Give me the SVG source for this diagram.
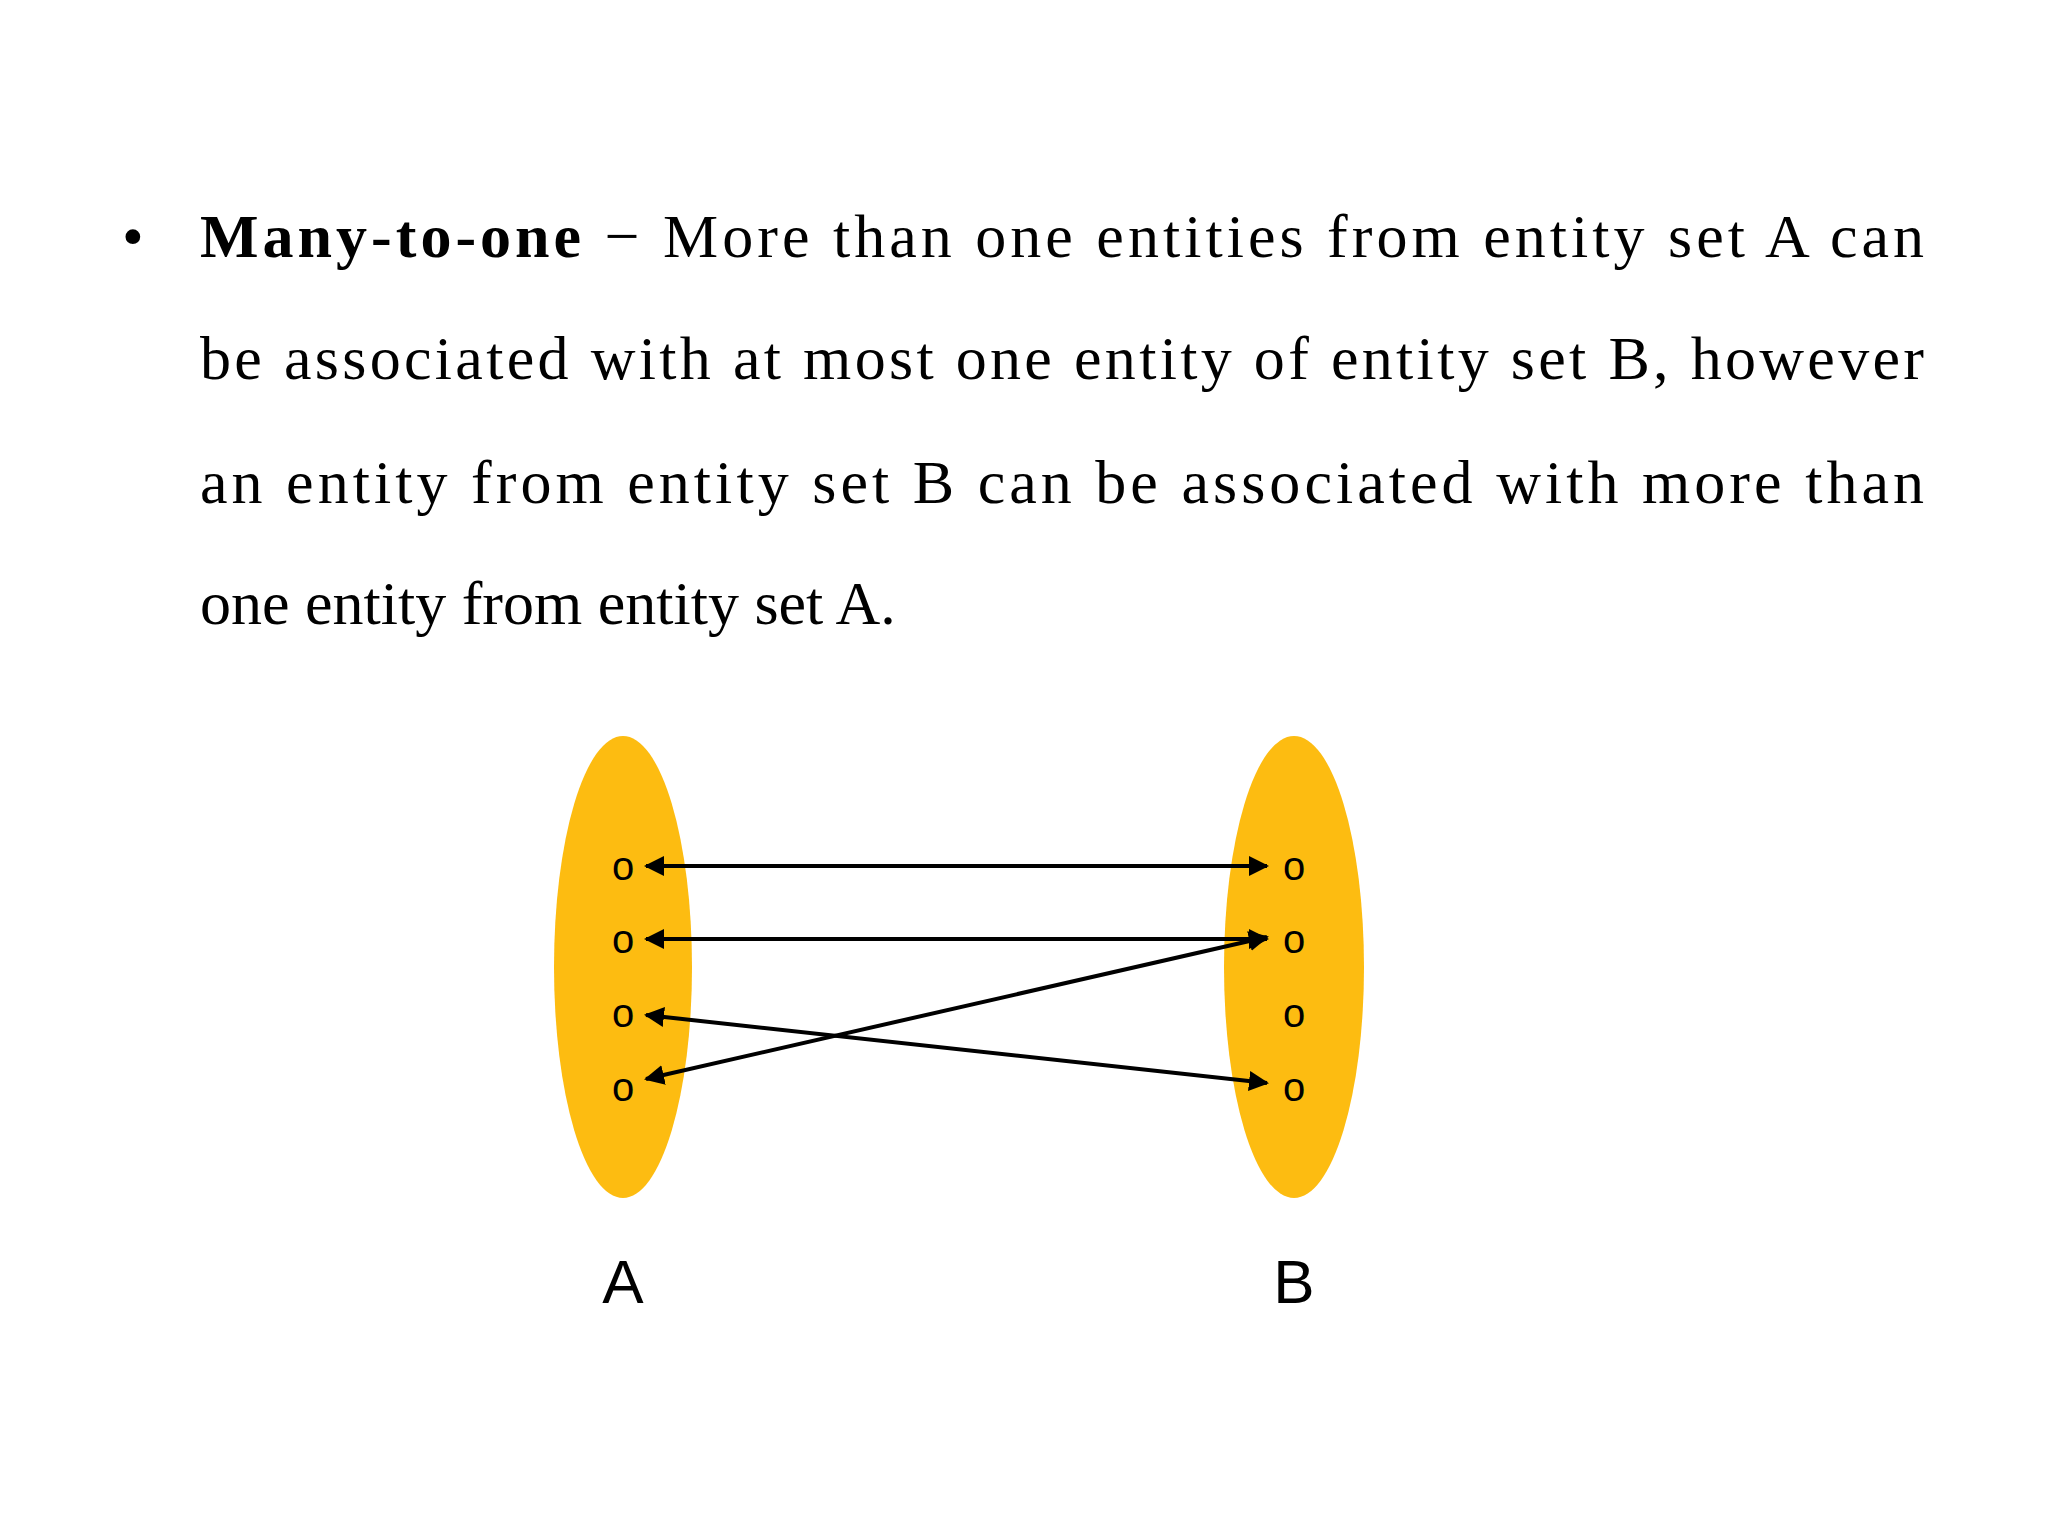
<svg xmlns="http://www.w3.org/2000/svg" width="2048" height="1536" viewBox="0 0 2048 1536">
<style>
.t{font-family:"Liberation Serif",serif;font-size:62px;fill:#000}
.o{font-family:"Liberation Sans",Arial,sans-serif;font-size:40px;fill:#000;text-anchor:middle}
.lab{font-family:"Liberation Sans",Arial,sans-serif;font-size:62px;fill:#000;text-anchor:middle}
.c{stroke:#000;stroke-width:4;fill:none;marker-start:url(#ah);marker-end:url(#ah)}
</style>
<defs>
<marker id="ah" viewBox="0 0 10 10" refX="9" refY="5" markerWidth="5" markerHeight="5" orient="auto-start-reverse" markerUnits="strokeWidth">
<path d="M0,0 L10,5 L0,10 z" fill="#000"/>
</marker>
</defs>
<rect width="2048" height="1536" fill="#fff"/>
<g id="text">
<text class="t" x="122" y="257">•</text>
<text class="t" x="200" y="257" textLength="1724" lengthAdjust="spacing"><tspan font-weight="bold">Many-to-one</tspan> − More than one entities from entity set A can</text>
<text class="t" x="200" y="379" textLength="1724" lengthAdjust="spacing">be associated with at most one entity of entity set B, however</text>
<text class="t" x="200" y="503" textLength="1724" lengthAdjust="spacing">an entity from entity set B can be associated with more than</text>
<text class="t" x="200" y="624">one entity from entity set A.</text>
</g>
<g id="setA">
<ellipse cx="623" cy="967" rx="69" ry="231" fill="#FDBC11"/>
<text class="o" x="623" y="880">o</text>
<text class="o" x="623" y="953">o</text>
<text class="o" x="623" y="1027">o</text>
<text class="o" x="623" y="1101">o</text>
<text class="lab" x="623" y="1303">A</text>
</g>
<g id="setB">
<ellipse cx="1294" cy="967" rx="70" ry="231" fill="#FDBC11"/>
<text class="o" x="1294" y="880">o</text>
<text class="o" x="1294" y="953">o</text>
<text class="o" x="1294" y="1027">o</text>
<text class="o" x="1294" y="1101">o</text>
<text class="lab" x="1294" y="1303">B</text>
</g>
<g id="connectors">
<line class="c" x1="646" y1="866" x2="1267" y2="866"/>
<line class="c" x1="646" y1="939" x2="1267" y2="939"/>
<line class="c" x1="646" y1="1015" x2="1267" y2="1083"/>
<line class="c" x1="1267" y1="937" x2="646" y2="1079"/>
</g>
</svg>
